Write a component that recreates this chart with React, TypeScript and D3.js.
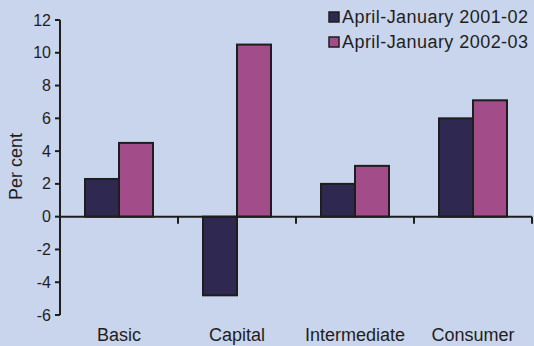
import React from "react";
import * as d3 from "d3";

const categories = ["Basic", "Capital", "Intermediate", "Consumer"];
const seriesNames = ["April-January 2001-02", "April-January 2002-03"];
const values2001 = [2.3, -4.8, 2.0, 6.0];
const values2002 = [4.5, 10.5, 3.1, 7.1];
const yTicks = [12, 10, 8, 6, 4, 2, 0, -2, -4, -6];

const W = 534;
const H = 346;
const BG = "#c9d5ec";
const COLORS = ["#2f2850", "#a34c8a"];
const INK = "#1e1e1e";
const FONT = "'Liberation Sans', Arial, sans-serif";

export default function App() {
  const left = 60;
  const right = 532;
  const top = 20;
  const bottom = 315;

  const x = d3.scaleBand<string>().domain(categories).range([left, right]).paddingInner(0).paddingOuter(0);
  const y = d3.scaleLinear().domain([-6, 12]).range([bottom, top]);
  const barW = 34;
  const series = [values2001, values2002];

  return (
    <svg
      width={W}
      height={H}
      style={{ position: "absolute", left: 0, top: 0, display: "block" }}
      fontFamily={FONT}
    >
      <rect x={0} y={0} width={W} height={H} fill={BG} />

      {/* bars */}
      {categories.map((c, i) => {
        const center = (x(c) as number) + x.bandwidth() / 2;
        return series.map((vals, s) => {
          const v = vals[i];
          const y0 = y(0);
          const y1 = y(v);
          return (
            <rect
              key={c + s}
              x={center - barW + s * barW}
              y={Math.min(y0, y1)}
              width={barW}
              height={Math.abs(y1 - y0)}
              fill={COLORS[s]}
              stroke={INK}
              strokeWidth={2}
            />
          );
        });
      })}

      {/* zero line with category dividers */}
      <line x1={left} x2={right} y1={y(0)} y2={y(0)} stroke={INK} strokeWidth={2} />
      {categories.map((c, i) => {
        const xx = (x(c) as number) + x.bandwidth();
        return (
          <line key={"t" + i} x1={xx} x2={xx} y1={y(0)} y2={y(0) + 7} stroke={INK} strokeWidth={2} />
        );
      })}

      {/* y axis */}
      <line x1={left} x2={left} y1={top} y2={bottom} stroke={INK} strokeWidth={2} />
      {yTicks.map((t) => (
        <g key={t}>
          <line x1={left - 5} x2={left} y1={y(t)} y2={y(t)} stroke={INK} strokeWidth={2} />
          <text
            x={left - 9}
            y={y(t)}
            dy="0.35em"
            textAnchor="end"
            fontSize={16}
            fill={INK}
          >
            {t}
          </text>
        </g>
      ))}
      <text
        transform={`translate(22,${(top + bottom) / 2 - 1}) rotate(-90)`}
        textAnchor="middle"
        fontSize={18}
        fill={INK}
      >
        Per cent
      </text>

      {/* category labels */}
      {categories.map((c) => (
        <text
          key={c}
          x={(x(c) as number) + x.bandwidth() / 2}
          y={341}
          textAnchor="middle"
          fontSize={18}
          fill={INK}
        >
          {c}
        </text>
      ))}

      {/* legend */}
      {seriesNames.map((n, s) => (
        <g key={n} transform={`translate(329,${12 + s * 25})`}>
          <rect x={0} y={0} width={10} height={10} fill={COLORS[s]} stroke={INK} strokeWidth={1.5} />
          <text x={13} y={11} fontSize={18} fill={INK} textLength={186} lengthAdjust="spacing">
            {n}
          </text>
        </g>
      ))}
    </svg>
  );
}
